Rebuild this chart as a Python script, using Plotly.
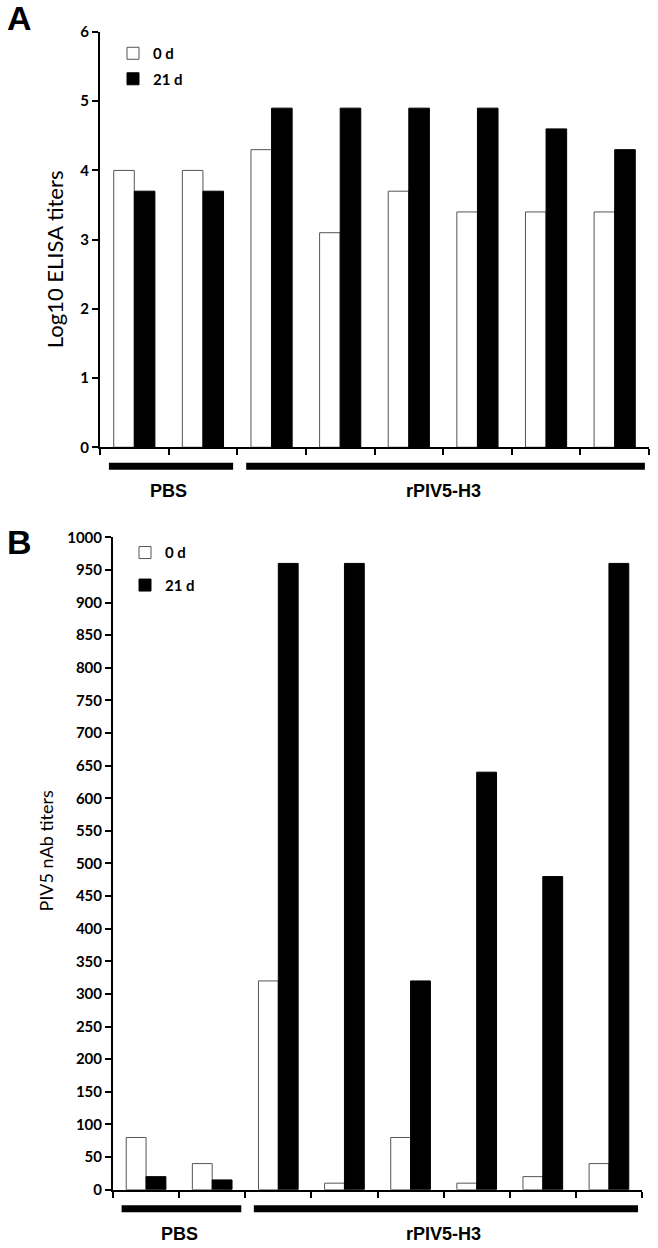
import plotly.graph_objects as go

# ---- data ----
categories = list(range(8))
elisa_0d = [4.0, 4.0, 4.3, 3.1, 3.7, 3.4, 3.4, 3.4]
elisa_21d = [3.7, 3.7, 4.9, 4.9, 4.9, 4.9, 4.6, 4.3]
nab_0d = [80, 40, 320, 10, 80, 10, 20, 40]
nab_21d = [20, 15, 960, 960, 320, 640, 480, 960]
group_names = ["PBS", "rPIV5-H3"]
group_sizes = [2, 6]
series_names = ["0 d", "21 d"]

W, H = 658, 1248
FAM = "Lato, Open Sans, sans-serif"
tick_font = dict(family=FAM, size=15, color="black", weight="bold")
label_font = dict(family="Liberation Sans, Arial, sans-serif", size=18, color="black")


def py(pix):
    # pixel row -> paper y (small correction for the capture offset)
    return 1 - ((pix - 10) / 0.985) / H


def px(pix):
    return (pix - 1) / W


def bar_pair(x, y0, y21, xa, ya, legend):
    white = go.Bar(x=x, y=y0, name=series_names[0], xaxis=xa, yaxis=ya,
                   marker=dict(color="white", line=dict(color="#555", width=1)),
                   legend=legend, legendgroup=legend + "a")
    black = go.Bar(x=x, y=y21, name=series_names[1], xaxis=xa, yaxis=ya,
                   marker=dict(color="black", line=dict(color="black", width=1)),
                   legend=legend, legendgroup=legend + "b")
    return [white, black]


traces = bar_pair(categories, elisa_0d, elisa_21d, "x", "y", "legend")
traces += bar_pair(categories, nab_0d, nab_21d, "x2", "y2", "legend2")
fig = go.Figure(data=traces)

xa_common = dict(range=[-0.5, 7.5], tickmode="array",
                 tickvals=[i - 0.5 for i in range(9)], ticktext=[""] * 9,
                 showline=True, linecolor="black", linewidth=2,
                 ticks="outside", ticklen=6, tickwidth=2, tickcolor="black",
                 showgrid=False, zeroline=False, fixedrange=True)
ya_common = dict(showline=True, linecolor="black", linewidth=2,
                 ticks="outside", ticklen=6, tickwidth=2, tickcolor="black",
                 showgrid=False, zeroline=False, tickfont=tick_font)

fig.update_layout(
    width=W, height=H, margin=dict(l=0, r=0, t=0, b=0),
    paper_bgcolor="white", plot_bgcolor="white",
    barmode="group", bargap=0.4, bargroupgap=0,
    xaxis=dict(domain=[px(101), px(650)], anchor="y", **xa_common),
    yaxis=dict(domain=[py(447), py(32)], anchor="x", range=[0, 6], dtick=1, **ya_common),
    xaxis2=dict(domain=[px(114), px(643)], anchor="y2", **xa_common),
    yaxis2=dict(domain=[py(1189), py(537)], anchor="x2", range=[0, 1000], dtick=50, **ya_common),
    legend=dict(x=px(114), y=py(37), xanchor="left", yanchor="top",
                bgcolor="rgba(0,0,0,0)", font=dict(family=FAM, size=15, color="black", weight="bold"),
                itemwidth=30, tracegroupgap=3),
    legend2=dict(x=px(126), y=py(536), xanchor="left", yanchor="top",
                 bgcolor="rgba(0,0,0,0)", font=dict(family=FAM, size=15, color="black", weight="bold"),
                 itemwidth=30, tracegroupgap=10),
)

# axis titles
for text, cx, cy, size in [("Log10 ELISA titers", 55, 259, 22), ("PIV5 nAb titers", 47, 851, 18)]:
    fig.add_annotation(xref="paper", yref="paper", x=px(cx), y=py(cy), text=text, textangle=-90,
                       showarrow=False, xanchor="center", yanchor="middle",
                       font=dict(family=FAM, size=size, color="black"))

# group bars and labels under each panel
panels = [("x", 466, 491), ("x2", 1208, 1233)]
for xref, bar_row, text_row in panels:
    start = 0
    for name, size in zip(group_names, group_sizes):
        fig.add_shape(type="line", xref=xref, yref="paper", x0=start - 0.37, x1=start + size - 0.56,
                      y0=py(bar_row), y1=py(bar_row), line=dict(color="black", width=7))
        fig.add_annotation(xref=xref, yref="paper", x=start + (size - 1) / 2, y=py(text_row),
                           text="<b>%s</b>" % name, showarrow=False, font=label_font,
                           xanchor="center", yanchor="middle")
        start += size

for letter, row in [("A", 18), ("B", 542)]:
    fig.add_annotation(xref="paper", yref="paper", x=px(6), y=py(row), text="<b>%s</b>" % letter,
                       showarrow=False, xanchor="left", yanchor="middle",
                       font=dict(family="Liberation Sans, Arial, sans-serif", size=34, color="black"))

fig.write_html("out.html", config={"displayModeBar": False},
               post_script="document.body.style.margin='0px';")
